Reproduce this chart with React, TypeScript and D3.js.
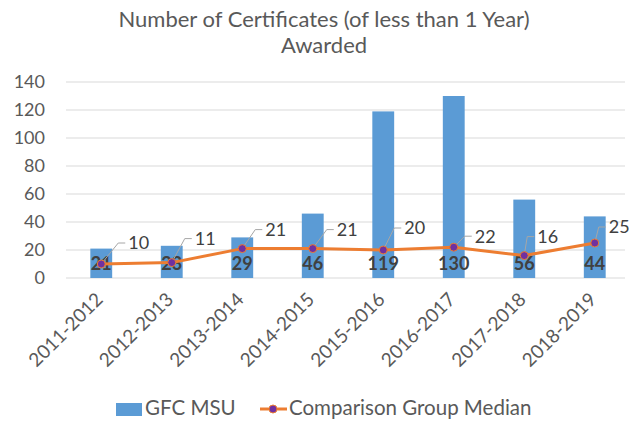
import React from 'react';
import * as d3 from 'd3';

const years = ['2011-2012', '2012-2013', '2013-2014', '2014-2015', '2015-2016', '2016-2017', '2017-2018', '2018-2019'];
const gfcMsu = [21, 23, 29, 46, 119, 130, 56, 44];
const groupMedian = [10, 11, 21, 21, 20, 22, 16, 25];
const yTicks = [0, 20, 40, 60, 80, 100, 120, 140];

// where each median label was dragged to, relative to its point (px)
const labelShift: [number, number][] = [[27, -21], [23, -24], [23, -19], [24, -19], [21, -22], [21, -11], [13, -19], [14, -16]];

const W = 631;
const H = 422;
const FONT = 'Lato, "Open Sans", sans-serif';
const margin = { top: 82, right: 1, bottom: 144, left: 66 };

const App = () => {
    const x = d3.scaleBand<string>()
        .domain(years)
        .range([margin.left, W - margin.right])
        .paddingInner(0.69)
        .paddingOuter(0.345);

    const y = d3.scaleLinear()
        .domain([0, 140])
        .range([H - margin.bottom, margin.top]);

    const cx = (d: string) => (x(d) ?? 0) + x.bandwidth() / 2;

    const line = d3.line<number>()
        .x((_, i) => cx(years[i]))
        .y((d) => y(d));

    return (
        <svg width={W} height={H} style={{ position: 'fixed', left: 0, top: 0, background: '#fff' }} fontFamily={FONT}>
            {/* title */}
            <text x={324} y={27} textAnchor="middle" fontSize={22} fill="#595959">
                Number of Certificates (of less than 1 Year)
            </text>
            <text x={324} y={53} textAnchor="middle" fontSize={22} fill="#595959">Awarded</text>

            {/* grid + y axis */}
            {yTicks.map((t) => (
                <g key={t}>
                    <line x1={margin.left} x2={W - 6} y1={y(t)} y2={y(t)} stroke="#d9d9d9" strokeWidth={1} />
                    <text x={45} y={y(t)} dy="0.35em" textAnchor="end" fontSize={18} fill="#595959">{t}</text>
                </g>
            ))}

            {/* bars */}
            {gfcMsu.map((v, i) => (
                <rect key={years[i]} x={x(years[i])} y={y(v)} width={x.bandwidth()} height={y(0) - y(v)} fill="#5b9bd5" />
            ))}

            {/* bar labels, inside base */}
            {gfcMsu.map((v, i) => (
                <text key={'b' + i} x={cx(years[i])} y={y(0) - 8} textAnchor="middle" fontSize={18} fontWeight="bold" fill="#404040">{v}</text>
            ))}

            {/* median line */}
            <path d={line(groupMedian) ?? ''} fill="none" stroke="#ed7d31" strokeWidth={3} strokeLinejoin="round" />

            {/* leader lines + labels */}
            {groupMedian.map((v, i) => {
                const px = cx(years[i]);
                const py = y(v);
                const lx = px + labelShift[i][0];
                const ly = py + labelShift[i][1];
                const ex = lx - 10;
                const ang = Math.atan2(ly - py, ex - px);
                const sx = px + Math.cos(ang) * 3;
                const sy = py + Math.sin(ang) * 3;
                return (
                    <g key={'m' + i}>
                        <polyline points={`${sx},${sy} ${ex},${ly} ${lx - 3},${ly}`} fill="none" stroke="#a6a6a6" strokeWidth={1} />
                        <text x={lx} y={ly} dy="0.35em" fontSize={18} fill="#404040">{v}</text>
                    </g>
                );
            })}

            {groupMedian.map((v, i) => (
                <circle key={'c' + i} cx={cx(years[i])} cy={y(v)} r={4} fill="#7030a0" stroke="#ed7d31" strokeWidth={1} />
            ))}

            {/* x axis labels */}
            {years.map((d) => (
                <text key={d} transform={`translate(${cx(d) - 2},${y(0) + 18}) rotate(-45)`} textAnchor="end" dy="0.35em" fontSize={19} fill="#595959">{d}</text>
            ))}

            {/* legend */}
            <rect x={116} y={403} width={26} height={13} fill="#5b9bd5" />
            <text x={145} y={415} fontSize={20.5} fill="#595959">GFC MSU</text>
            <line x1={260} x2={287} y1={409} y2={409} stroke="#ed7d31" strokeWidth={3} />
            <circle cx={273} cy={409} r={4} fill="#7030a0" stroke="#ed7d31" strokeWidth={1} />
            <text x={289} y={415} fontSize={20.5} fill="#595959">Comparison Group Median</text>
        </svg>
    );
};

export default App;
